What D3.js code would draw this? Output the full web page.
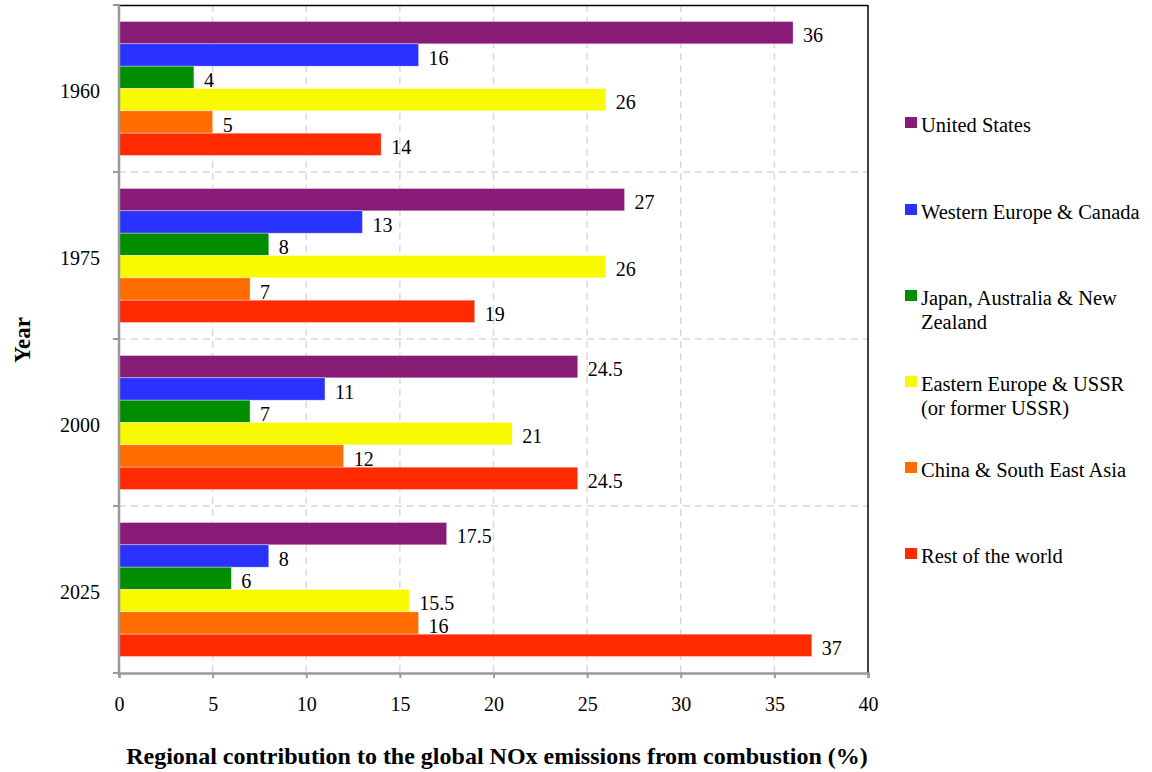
<!DOCTYPE html>
<html>
<head>
<meta charset="utf-8">
<script src="https://cdn.jsdelivr.net/npm/d3@7"></script>
<style>
  html, body { margin: 0; padding: 0; background: #fff; }
  svg { display: block; font-family: "Liberation Serif", "Times New Roman", serif; }
</style>
</head>
<body>
<svg id="chart" width="1152" height="772"></svg>
<script>
// Regional share of global NOx emissions from combustion (%)
const years = ["1960", "1975", "2000", "2025"];
const regions = [
  "United States",
  "Western Europe & Canada",
  "Japan, Australia & New Zealand",
  "Eastern Europe & USSR (or former USSR)",
  "China & South East Asia",
  "Rest of the world"
];
const legendLines = [
  ["United States"],
  ["Western Europe & Canada"],
  ["Japan, Australia & New", "Zealand"],
  ["Eastern Europe & USSR", "(or former USSR)"],
  ["China & South East Asia"],
  ["Rest of the world"]
];
const colors = ["#871b75", "#2a32ff", "#008d00", "#f9f900", "#ff6c00", "#ff2a00"];
// one array per region, ordered by year
const unitedStates   = [36, 27, 24.5, 17.5];
const westernEurope  = [16, 13, 11, 8];
const japanAusNZ     = [4, 8, 7, 6];
const easternEurope  = [26, 26, 21, 15.5];
const chinaSEAsia    = [5, 7, 12, 16];
const restOfWorld    = [14, 19, 24.5, 37];
const xTicks = [0, 5, 10, 15, 20, 25, 30, 35, 40];

const series = [unitedStates, westernEurope, japanAusNZ, easternEurope, chinaSEAsia, restOfWorld];

const svg = d3.select("#chart");
const pLeft = 119, pRight = 868, pTop = 5, pBottom = 673;

const x = d3.scaleLinear().domain([0, 40]).range([pLeft, pRight]);
const y = d3.scaleBand().domain(years).range([pTop, pBottom]).paddingInner(0).paddingOuter(0);
const inner = d3.scaleBand().domain(d3.range(regions.length))
  .range([16.5, y.bandwidth() - 16.5]).padding(0);

// dashed grid
const grid = svg.append("g");
grid.selectAll("line.v").data(xTicks.slice(1, -1)).join("line")
  .attr("x1", d => x(d)).attr("x2", d => x(d))
  .attr("y1", pTop).attr("y2", pBottom)
  .attr("stroke", "#d9d9d9").attr("stroke-width", 1.5).attr("stroke-dasharray", "7,5");
grid.selectAll("line.h").data(years.slice(1)).join("line")
  .attr("x1", pLeft).attr("x2", pRight)
  .attr("y1", d => y(d)).attr("y2", d => y(d))
  .attr("stroke", "#d9d9d9").attr("stroke-width", 1.5).attr("stroke-dasharray", "7,5");

// frame: black top and right edges
svg.append("line").attr("x1", pLeft).attr("x2", pRight).attr("y1", pTop + 0.5).attr("y2", pTop + 0.5)
  .attr("stroke", "#000").attr("stroke-width", 1.5);
svg.append("line").attr("x1", pRight).attr("x2", pRight).attr("y1", pTop).attr("y2", pBottom)
  .attr("stroke", "#000").attr("stroke-width", 1.5);

// bars
const rows = [];
years.forEach((yr, i) => series.forEach((s, j) => rows.push({ yr, j, v: s[i] })));
svg.append("g").selectAll("rect").data(rows).join("rect")
  .attr("x", x(0))
  .attr("y", d => y(d.yr) + inner(d.j))
  .attr("width", d => x(d.v) - x(0))
  .attr("height", inner.bandwidth())
  .attr("fill", d => colors[d.j])
  .attr("stroke", "rgba(255,255,255,0.6)").attr("stroke-width", 0.6);

// value labels
svg.append("g").selectAll("text").data(rows).join("text")
  .attr("x", d => x(d.v) + 10)
  .attr("y", d => y(d.yr) + inner(d.j) + inner.bandwidth() / 2 + 9.5)
  .attr("font-size", 20).attr("fill", "#000")
  .text(d => d.v);

// x axis
const xAxis = svg.append("g").attr("transform", `translate(0,${pBottom})`)
  .call(d3.axisBottom(x).tickValues(xTicks).tickSize(5).tickPadding(19));
xAxis.select(".domain").attr("stroke", "#999").attr("stroke-width", 2.5);
xAxis.selectAll(".tick line").attr("stroke", "#999").attr("stroke-width", 2);
xAxis.selectAll("text").attr("font-size", 20).attr("fill", "#000")
  .attr("font-family", "Liberation Serif, Times New Roman, serif");

// y axis: ticks at category boundaries, labels at band centers
const yAxis = svg.append("g");
yAxis.append("line").attr("x1", pLeft).attr("x2", pLeft).attr("y1", pTop - 1).attr("y2", pBottom + 2)
  .attr("stroke", "#999").attr("stroke-width", 2.5);
const bounds = years.map(d => y(d)).concat([pBottom]);
yAxis.selectAll("line.t").data(bounds).join("line")
  .attr("x1", pLeft - 6).attr("x2", pLeft)
  .attr("y1", d => d).attr("y2", d => d)
  .attr("stroke", "#999").attr("stroke-width", 2);
yAxis.selectAll("text").data(years).join("text")
  .attr("x", 100).attr("y", d => y(d) + y.bandwidth() / 2 + 9)
  .attr("text-anchor", "end").attr("font-size", 20).attr("fill", "#000")
  .text(d => d);

// axis titles
svg.append("text").attr("x", 497).attr("y", 764).attr("text-anchor", "middle")
  .attr("font-size", 24).attr("font-weight", "bold")
  .text("Regional contribution to the global NOx emissions from combustion (%)");
svg.append("text").attr("transform", "translate(30,340) rotate(-90)")
  .attr("text-anchor", "middle").attr("font-size", 23).attr("font-weight", "bold")
  .text("Year");

// legend
const legendY = [125, 212, 298, 384, 470, 556];
const lg = svg.append("g").selectAll("g").data(regions).join("g")
  .attr("transform", (d, i) => `translate(905,${legendY[i]})`);
lg.append("rect").attr("x", 0).attr("y", -8).attr("width", 12).attr("height", 11)
  .attr("fill", (d, i) => colors[i]);
lg.append("text").attr("x", 16).attr("y", 7).attr("font-size", 20.5).attr("fill", "#000")
  .selectAll("tspan").data((d, i) => legendLines[i]).join("tspan")
  .attr("x", 16).attr("dy", (d, k) => k === 0 ? 0 : 24)
  .text(d => d);
</script>
</body>
</html>
